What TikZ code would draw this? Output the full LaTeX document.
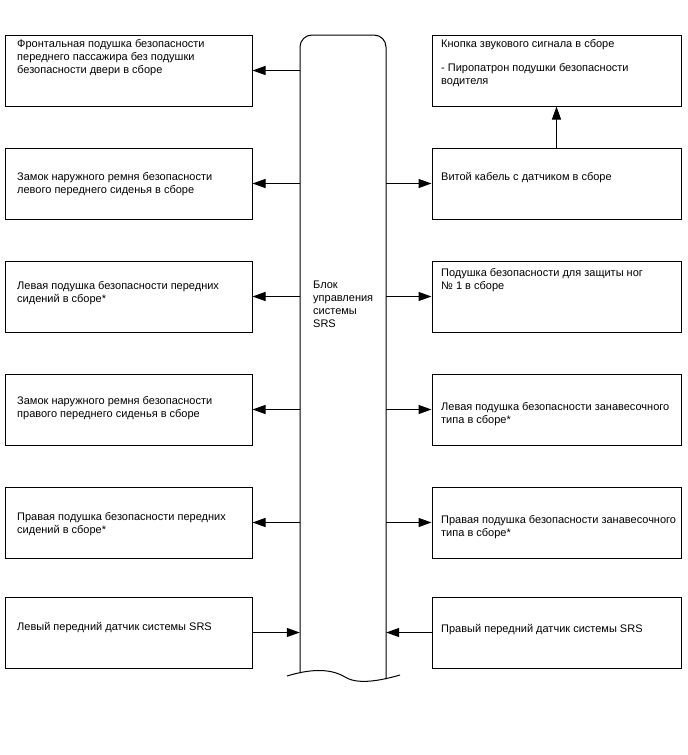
\documentclass[tikz,border=0pt]{standalone}
\usepackage{fontspec}
\setmainfont{Liberation Sans}
\usetikzlibrary{arrows.meta}
\begin{document}
\begin{tikzpicture}[x=1pt,y=-1pt,
 box/.style={draw,line width=1pt,minimum width=247pt,minimum height=71pt,inner sep=0pt},
 rbox/.style={box,minimum width=249pt},
 lbl/.style={anchor=north west,inner sep=0pt,align=left,font=\fontsize{11}{13}\selectfont},
 arr/.style={line width=1pt,-{Triangle[length=13pt,width=9pt]}}]
\useasboundingbox (0,0) rectangle (688,755);
% bus
\node[minimum width=86pt,minimum height=640pt,inner sep=0pt] (bus) at (343,355) {};
\draw[line width=1pt,rounded corners=12pt] (300,673) -- (300,35) -- (386,35) -- (386,679);
\draw[line width=1pt] (287,676) .. controls (310,669) and (330,668) .. (345,677) .. controls (356,684) and (376,682) .. (400,675);
\node[lbl] (bust) at (313,281) {Блок\\управления\\системы\\SRS};
% left boxes
\node[box] (L1) at (128.5,70.5) {};
\node[box] (L2) at (128.5,183.5) {};
\node[box] (L3) at (128.5,296.5) {};
\node[box] (L4) at (128.5,409.5) {};
\node[box] (L5) at (128.5,522.5) {};
\node[box] (L6) at (128.5,632.5) {};
% right boxes
\node[rbox] (R1) at (556.5,70.5) {};
\node[rbox] (R2) at (556.5,183.5) {};
\node[rbox] (R3) at (556.5,296.5) {};
\node[rbox] (R4) at (556.5,409.5) {};
\node[rbox] (R5) at (556.5,522.5) {};
\node[rbox] (R6) at (556.5,632.5) {};
% texts
\node[lbl] (t1) at (17,39) {Фронтальная подушка безопасности\\переднего пассажира без подушки\\безопасности двери в сборе};
\node[lbl] (t2) at (17,172) {Замок наружного ремня безопасности\\левого переднего сиденья в сборе};
\node[lbl] (t3) at (17,281) {Левая подушка безопасности передних\\сидений в сборе*};
\node[lbl] (t4) at (17,396) {Замок наружного ремня безопасности\\правого переднего сиденья в сборе};
\node[lbl] (t5) at (17,512) {Правая подушка безопасности передних\\сидений в сборе*};
\node[lbl] (t6) at (17,622) {Левый передний датчик системы SRS};
\node[lbl] (u1) at (441,39) {Кнопка звукового сигнала в сборе\\[11pt]- Пиропатрон подушки безопасности\\водителя};
\node[lbl] (u2) at (441,172) {Витой кабель с датчиком в сборе};
\node[lbl] (u3) at (441,268) {Подушка безопасности для защиты ног\\№ 1 в сборе};
\node[lbl] (u4) at (441,402) {Левая подушка безопасности занавесочного\\типа в сборе*};
\node[lbl] (u5) at (441,515) {Правая подушка безопасности занавесочного\\типа в сборе*};
\node[lbl] (u6) at (441,624) {Правый передний датчик системы SRS};
% connectors
\foreach \n in {1,...,5} {
  \draw[arr] (bus.west |- L\n.east) -- (L\n.east);
}
\foreach \n in {2,...,5} {
  \draw[arr] (bus.east |- R\n.west) -- (R\n.west);
}
\draw[arr] (L6.east) -- (bus.west |- L6.east);
\draw[arr] (R6.west) -- (bus.east |- R6.west);
\draw[arr] (R2.north) -- (R1.south);
\end{tikzpicture}
\end{document}
